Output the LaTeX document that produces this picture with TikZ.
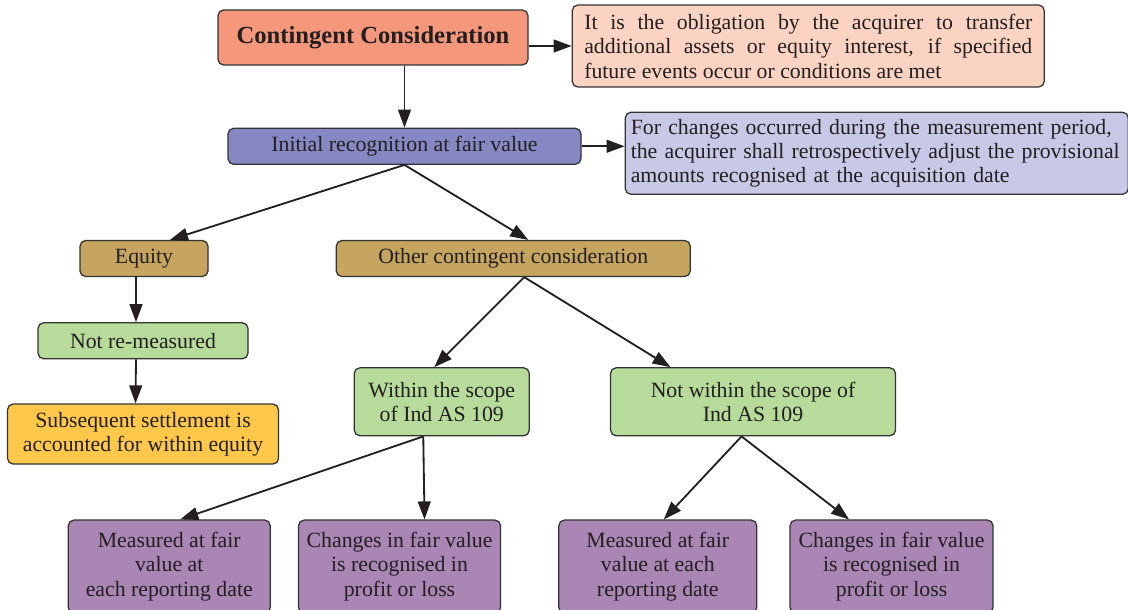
\documentclass[tikz,border=0pt]{standalone}
\usepackage{fontspec}
\setmainfont{Liberation Serif}
\usetikzlibrary{positioning, arrows.meta}

\definecolor{ccred}{HTML}{F4977B}
\definecolor{ccpeach}{HTML}{FBD3C2}
\definecolor{initblue}{HTML}{8688C4}
\definecolor{measblue}{HTML}{C8C9E6}
\definecolor{eqtan}{HTML}{C5A55F}
\definecolor{scgreen}{HTML}{B6DB9A}
\definecolor{setyellow}{HTML}{FFC84A}
\definecolor{fvpurple}{HTML}{A986B4}
\definecolor{edgegray}{HTML}{333333}
\definecolor{inkblack}{HTML}{231F20}

\begin{document}
\begin{tikzpicture}[
      box/.style    = {rectangle, draw=edgegray, line width=0.9pt,
                       rounded corners=4pt, inner sep=0pt,
                       align=center, text=inkblack,
                       font=\fontsize{15.5}{17.4}\selectfont},
      flat/.style   = {box, minimum height=0.9cm},
      leaf/.style   = {box, fill=fvpurple, minimum height=2.325cm},
      arr/.style    = {-{Triangle[length=0.45cm, width=0.32cm]},
                       line width=1.3pt, color=inkblack},
    ]
    \useasboundingbox (0,0) rectangle (28.2,-15.25);

    \node[box, fill=ccred, minimum width=7.75cm, minimum height=1.375cm,
          font=\fontsize{17.5}{20}\selectfont\bfseries] (cc) at (9.325,-0.9375)
          {Contingent Consideration};
    \node[box, fill=ccpeach, minimum width=11.8cm, minimum height=2.05cm,
          text width=11.2cm, align=justify, right=1.075cm of cc, yshift=-0.2125cm] (def)
          {It is the obligation by the acquirer to transfer\linebreak
           additional assets or equity interest, if specified\linebreak
           future events occur or conditions are met};

    % Initial recognition
    \node[flat, fill=initblue, minimum width=8.825cm,
          below=1.55cm of cc, xshift=0.7875cm] (init)
          {Initial recognition at fair value};
    \node[box, fill=measblue, minimum width=12.575cm, minimum height=2.05cm,
          text width=12.3cm, align=left, right=1.075cm of init, yshift=-0.175cm] (meas)
          {For changes occurred during the measurement period,\\
           the acquirer shall retrospectively adjust the provisional\\
           amounts recognised at the acquisition date};

    % Equity branch
    \node[flat, fill=eqtan, minimum width=3.2cm,
          below=1.875cm of init, xshift=-6.5125cm] (eq) {Equity};
    \node[flat, fill=scgreen, minimum width=5.25cm,
          below=1.125cm of eq, xshift=-0.025cm] (notre) {Not re-measured};
    \node[box, fill=setyellow, minimum width=6.775cm, minimum height=1.5cm,
          below=1.1cm of notre] (subs)
          {Subsequent settlement is\\accounted for within equity};

    % Other contingent consideration branch
    \node[flat, fill=eqtan, minimum width=8.85cm, right=3.175cm of eq] (other)
          {Other contingent consideration};
    \node[box, fill=scgreen, minimum width=4.375cm, minimum height=1.7cm,
          below=2.25cm of other, xshift=-1.7875cm] (within)
          {Within the scope\\of Ind AS 109};
    \node[box, fill=scgreen, minimum width=7.125cm, minimum height=1.7cm,
          right=2.0cm of within] (notwithin)
          {Not within the scope of\\Ind AS 109};

    % Leaf boxes
    \node[leaf, minimum width=5.05cm, below=2.075cm of within, xshift=-6.8125cm] (m1)
          {Measured at fair\\value at\\each reporting date};
    \node[leaf, minimum width=5.05cm, right=0.675cm of m1] (c1)
          {Changes in fair value\\is recognised in\\profit or loss};
    \node[leaf, minimum width=4.95cm, right=1.425cm of c1] (m2)
          {Measured at fair\\value at each\\reporting date};
    \node[leaf, minimum width=5.075cm, right=0.8cm of m2] (c2)
          {Changes in fair value\\is recognised in\\profit or loss};

    % Flow arrows
    \draw[arr] (cc.east |- def.west) -- (def.west);
    \draw[arr] (cc.south -| init.north) -- (init.north);
    \draw[arr] (init.east) -- (init.east -| meas.west);
    \draw[arr] (init.south) -- ([xshift=0.65cm]eq.north);
    \draw[arr] (init.south) -- ([xshift=0.375cm]other.north);
    \draw[arr] ([xshift=-0.2cm]eq.south) -- ([xshift=-0.175cm]notre.north);
    \draw[arr] ([xshift=-0.175cm]notre.south) -- ([xshift=-0.1875cm]subs.north);
    \draw[arr] ([xshift=0.275cm]other.south) -- ([xshift=-0.1875cm]within.north);
    \draw[arr] ([xshift=0.275cm]other.south) -- ([xshift=-2.0625cm]notwithin.north);
    \draw[arr] ([xshift=-0.4625cm]within.south) -- ([xshift=0.275cm]m1.north);
    \draw[arr] ([xshift=-0.4625cm]within.south) -- ([xshift=0.625cm]c1.north);
    \draw[arr] ([xshift=-0.2875cm]notwithin.south) -- ([xshift=0.15cm]m2.north);
    \draw[arr] ([xshift=-0.2875cm]notwithin.south) -- ([xshift=-1.0625cm]c2.north);
  \end{tikzpicture}
\end{document}
